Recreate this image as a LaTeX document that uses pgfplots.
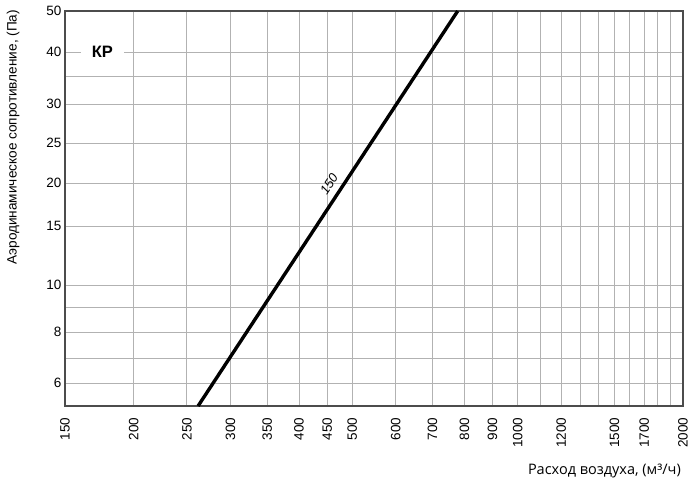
\documentclass[border=0pt]{standalone}
\usepackage{pgfplots}
\pgfplotsset{compat=1.18}
\usepackage{fontspec}
\setmainfont{Liberation Sans}
\newfontfamily\opensans{Open Sans}
\begin{document}
\begin{tikzpicture}
\useasboundingbox (-65pt,-83pt) rectangle (635pt,406pt);
\begin{axis}[
  scale only axis,
  width=618pt, height=395pt,
  xmode=log,
  xmin=150, xmax=2000,
  ymin=5, ymax=50,
  y coord trafo/.code={\pgfmathparse{(#1<6) ? ((#1-5)*23) : ((#1<7) ? (23+(#1-6)*25) : ((#1<8) ? (48+(#1-7)*26) : ((#1<9) ? (74+(#1-8)*25) : ((#1<10) ? (99+(#1-9)*22) : ((#1<15) ? (121+(#1-10)*11.8) : ((#1<20) ? (180+(#1-15)*8.6) : ((#1<25) ? (223+(#1-20)*8) : ((#1<30) ? (263+(#1-25)*7.8) : ((#1<35) ? (302+(#1-30)*5.6) : ((#1<40) ? (330+(#1-35)*4.8) : (354+(#1-40)*4.1)))))))))))}},
  xtick={150,200,250,300,350,400,450,500,600,700,800,900,1000,1100,1200,1300,1400,1500,1600,1700,1800,1900,2000},
  xticklabels={150,200,250,300,350,400,450,500,600,700,800,900,1000,,1200,,,1500,,1700,,,2000},
  ytick={6,7,8,9,10,15,20,25,30,35,40,50},
  yticklabels={6,,8,,10,15,20,25,30,,40,50},
  minor xtick={}, minor ytick={},
  major tick length=0pt,
  grid=major,
  major grid style={gray!60, line width=0.8pt},
  axis line style={draw=black!70, line width=1.2pt},
  tick label style={font=\fontsize{13.5}{15}\selectfont, black},
  xticklabel style={rotate=90, anchor=east},
  xticklabel shift=8pt,
  /pgf/number format/assume math mode=true,
  xlabel={Расход воздуха, (м³/ч)},
  xlabel style={at={(axis description cs:1,0)}, anchor=east, inner sep=0pt, xshift=-2pt, yshift=-65pt, font=\opensans\fontsize{14.5}{16}\selectfont},
  ylabel={Аэродинамическое сопротивление, (Па)},
  ylabel style={at={(axis description cs:-0.0841,0.68)}, anchor=center, font=\fontsize{13.6}{15}\selectfont},
]
\addplot[black, line width=3.4pt] coordinates {(262,5) (778,50)}
  node[pos=0.545, sloped, above=3pt, font=\itshape\fontsize{13}{15}\selectfont] {150};
\node[fill=white, inner xsep=11pt, inner ysep=2pt, font=\bfseries\fontsize{16.5}{18}\selectfont] at (axis cs:175.5,40) {КР};
\end{axis}
\end{tikzpicture}
\end{document}
